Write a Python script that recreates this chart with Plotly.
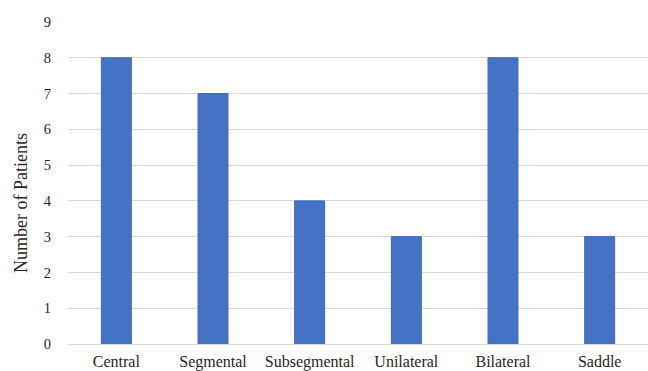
import plotly.graph_objects as go

# Embolism location categories and patient counts
categories = ["Central", "Segmental", "Subsegmental", "Unilateral", "Bilateral", "Saddle"]
patients = [8, 7, 4, 3, 8, 3]
y_ticks = list(range(0, 10))

font_family = "Liberation Serif, Times New Roman, serif"
text_color = "#262626"

fig = go.Figure(
    go.Bar(
        x=categories,
        y=patients,
        marker=dict(color="#4472C4", line=dict(color="#3F69B5", width=1)),
        width=0.31,
    )
)

fig.update_layout(
    width=648,
    height=371,
    margin=dict(l=68, r=0, t=22, b=27),
    paper_bgcolor="white",
    plot_bgcolor="white",
    showlegend=False,
    font=dict(family=font_family, size=14, color=text_color),
)

fig.update_xaxes(
    showgrid=False,
    showline=True,
    linecolor="#D9D9D9",
    linewidth=1,
    ticks="",
    ticklabelstandoff=3,
    tickfont=dict(family=font_family, size=16, color=text_color),
)

fig.update_yaxes(
    range=[0, 9],
    tickvals=y_ticks,
    showgrid=True,
    gridcolor="#D9D9D9",
    gridwidth=1,
    zeroline=False,
    ticks="",
    ticklabelstandoff=16,
    tickfont=dict(family=font_family, size=14.5, color=text_color),
)

# Vertical axis title
fig.add_annotation(
    text="Number of Patients",
    xref="paper",
    yref="paper",
    x=-0.081,
    y=0.438,
    xanchor="center",
    yanchor="middle",
    textangle=-90,
    showarrow=False,
    font=dict(family=font_family, size=18, color=text_color),
)

fig.write_html("out.html")
